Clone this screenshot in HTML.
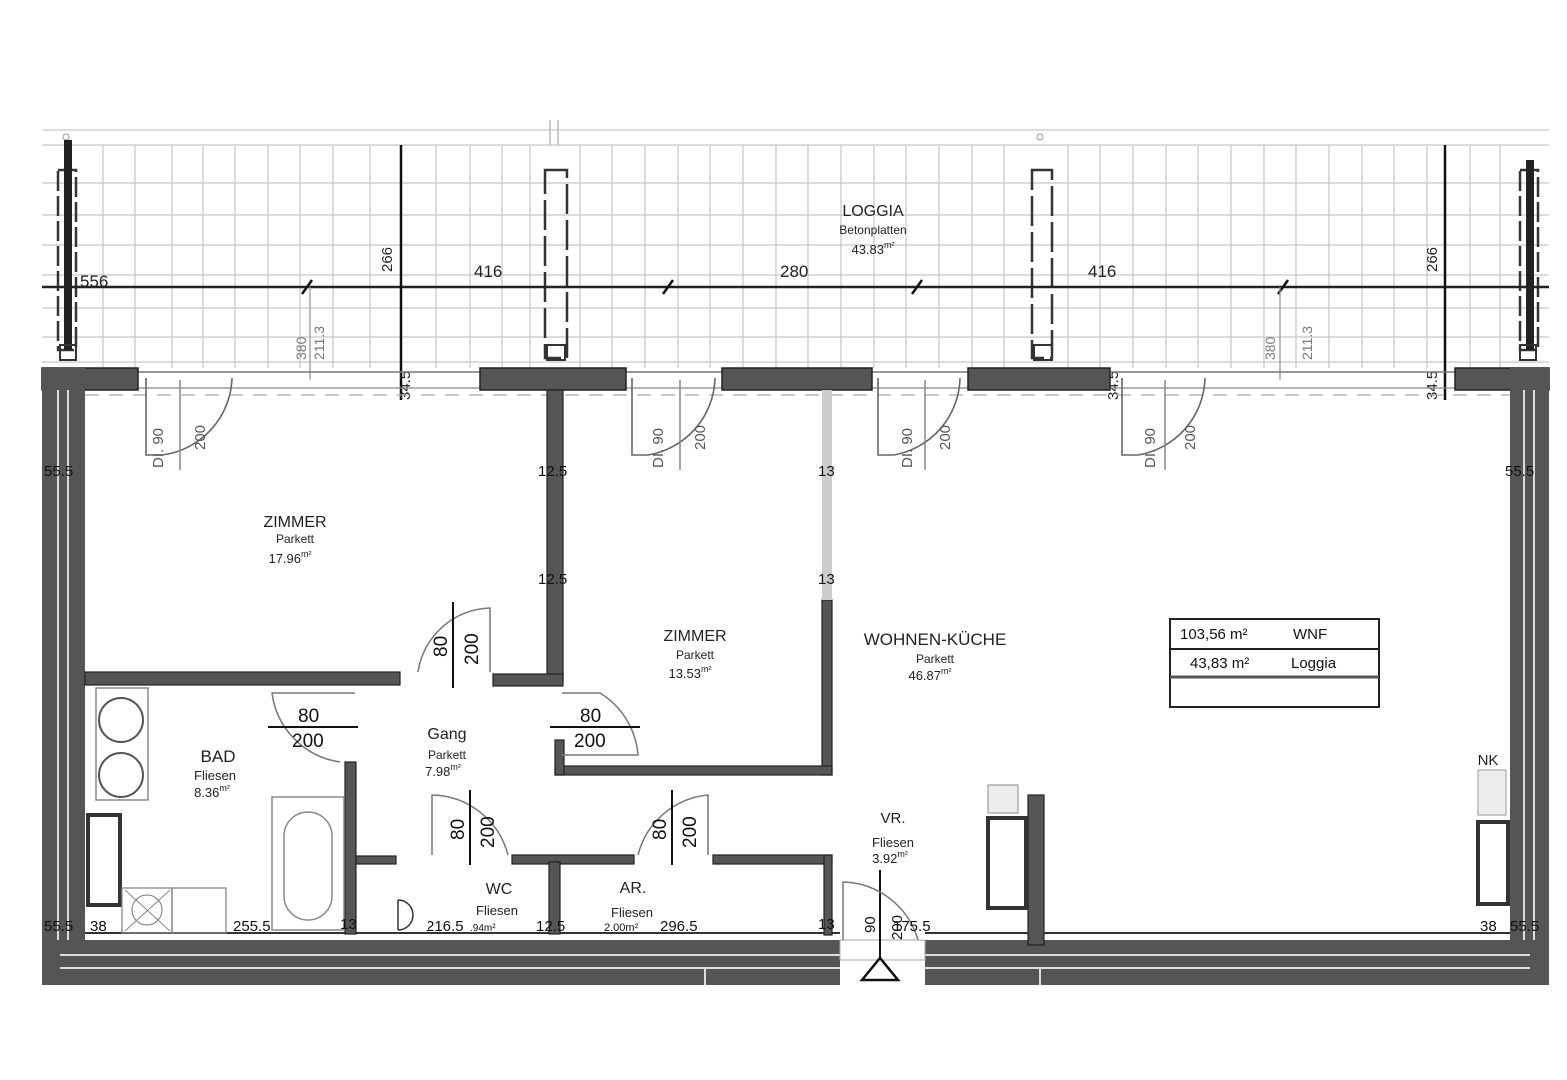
<!DOCTYPE html>
<html><head><meta charset="utf-8"><style>
html,body{margin:0;padding:0;background:#fff;}
svg{display:block;font-family:"Liberation Sans",sans-serif;}
</style></head><body>
<svg width="1567" height="1080" viewBox="0 0 1567 1080" xmlns="http://www.w3.org/2000/svg">
<rect width="1567" height="1080" fill="#fff"/>
<!-- Loggia grid -->
<g stroke="#c8c8c8" stroke-width="1.3">
<line x1="42" y1="130" x2="1549" y2="130"/>
<line x1="42" y1="145" x2="1549" y2="145"/>
<line x1="42" y1="183" x2="1549" y2="183"/>
<line x1="42" y1="215" x2="1549" y2="215"/>
<line x1="42" y1="245" x2="1549" y2="245"/>
<line x1="42" y1="275" x2="1549" y2="275"/>
<line x1="42" y1="308" x2="1549" y2="308"/>
<line x1="42" y1="337" x2="1549" y2="337"/>
<line x1="42" y1="362" x2="1549" y2="362"/>
</g>
<g stroke="#c8c8c8" stroke-width="1.3" id="vg">
<line x1="103" y1="145" x2="103" y2="368"/><line x1="135" y1="145" x2="135" y2="368"/><line x1="172" y1="145" x2="172" y2="368"/><line x1="203" y1="145" x2="203" y2="368"/><line x1="235" y1="145" x2="235" y2="368"/><line x1="268" y1="145" x2="268" y2="368"/><line x1="300" y1="145" x2="300" y2="368"/><line x1="333" y1="145" x2="333" y2="368"/><line x1="370" y1="145" x2="370" y2="368"/><line x1="436" y1="145" x2="436" y2="368"/><line x1="470" y1="145" x2="470" y2="368"/><line x1="502" y1="145" x2="502" y2="368"/><line x1="530" y1="145" x2="530" y2="368"/><line x1="580" y1="145" x2="580" y2="368"/><line x1="612" y1="145" x2="612" y2="368"/><line x1="645" y1="145" x2="645" y2="368"/><line x1="678" y1="145" x2="678" y2="368"/><line x1="710" y1="145" x2="710" y2="368"/><line x1="743" y1="145" x2="743" y2="368"/><line x1="776" y1="145" x2="776" y2="368"/><line x1="808" y1="145" x2="808" y2="368"/><line x1="841" y1="145" x2="841" y2="368"/><line x1="874" y1="145" x2="874" y2="368"/><line x1="906" y1="145" x2="906" y2="368"/><line x1="939" y1="145" x2="939" y2="368"/><line x1="972" y1="145" x2="972" y2="368"/><line x1="1004" y1="145" x2="1004" y2="368"/><line x1="1068" y1="145" x2="1068" y2="368"/><line x1="1100" y1="145" x2="1100" y2="368"/><line x1="1133" y1="145" x2="1133" y2="368"/><line x1="1166" y1="145" x2="1166" y2="368"/><line x1="1198" y1="145" x2="1198" y2="368"/><line x1="1231" y1="145" x2="1231" y2="368"/><line x1="1264" y1="145" x2="1264" y2="368"/><line x1="1296" y1="145" x2="1296" y2="368"/><line x1="1329" y1="145" x2="1329" y2="368"/><line x1="1362" y1="145" x2="1362" y2="368"/><line x1="1394" y1="145" x2="1394" y2="368"/><line x1="1427" y1="145" x2="1427" y2="368"/><line x1="1470" y1="145" x2="1470" y2="368"/><line x1="1500" y1="145" x2="1500" y2="368"/>
</g>
<line x1="550" y1="120" x2="550" y2="145" stroke="#bbb" stroke-width="1.5"/>
<line x1="558" y1="120" x2="558" y2="145" stroke="#bbb" stroke-width="1.5"/>
<circle cx="66" cy="137" r="3" fill="none" stroke="#999"/>
<circle cx="1040" cy="137" r="3" fill="none" stroke="#999"/>
<!-- pillars -->
<g fill="none" stroke="#333" stroke-width="2.5">
<rect x="58" y="170" width="18" height="180" stroke-dasharray="20 5"/>
<rect x="545" y="170" width="22" height="188" stroke-dasharray="30 6"/>
<rect x="1032" y="170" width="20" height="188" stroke-dasharray="30 6"/>
<rect x="1520" y="170" width="18" height="180" stroke-dasharray="20 5"/>
</g>
<rect x="64" y="140" width="8" height="210" fill="#222"/>
<rect x="1526" y="160" width="8" height="190" fill="#222"/>
<rect x="60" y="345" width="16" height="15" fill="none" stroke="#333" stroke-width="2"/>
<rect x="547" y="345" width="18" height="15" fill="none" stroke="#333" stroke-width="2"/>
<rect x="1034" y="345" width="18" height="15" fill="none" stroke="#333" stroke-width="2"/>
<rect x="1520" y="345" width="16" height="15" fill="none" stroke="#333" stroke-width="2"/>
<!-- dimension line -->
<line x1="42" y1="287" x2="1549" y2="287" stroke="#222" stroke-width="2.5"/>
<g stroke="#111" stroke-width="2.5">
<line x1="302" y1="294" x2="312" y2="280"/><line x1="663" y1="294" x2="673" y2="280"/><line x1="912" y1="294" x2="922" y2="280"/><line x1="1278" y1="294" x2="1288" y2="280"/>
</g>
<line x1="401" y1="145" x2="401" y2="400" stroke="#111" stroke-width="2.5"/>
<line x1="1445" y1="145" x2="1445" y2="400" stroke="#111" stroke-width="2.5"/>
<line x1="310" y1="287" x2="310" y2="380" stroke="#999" stroke-width="1.3"/>
<line x1="1280" y1="287" x2="1280" y2="380" stroke="#999" stroke-width="1.3"/>
<g font-size="17" fill="#222">
<text x="80" y="287">556</text>
<text x="474" y="277">416</text>
<text x="780" y="277">280</text>
<text x="1088" y="277">416</text>
<text x="873" y="216" text-anchor="middle" font-size="16">LOGGIA</text>
<text x="873" y="234" text-anchor="middle" font-size="12">Betonplatten</text>
<text x="873" y="254" text-anchor="middle" font-size="13">43.83<tspan font-size="9" dy="-6">m²</tspan></text>
<text transform="translate(392,272) rotate(-90)" font-size="15">266</text>
<text transform="translate(1437,272) rotate(-90)" font-size="15">266</text>
<text transform="translate(306,360) rotate(-90)" font-size="14" fill="#777">380</text>
<text transform="translate(324,360) rotate(-90)" font-size="14" fill="#777">211.3</text>
<text transform="translate(1275,360) rotate(-90)" font-size="14" fill="#777">380</text>
<text transform="translate(1312,360) rotate(-90)" font-size="14" fill="#777">211.3</text>
<text transform="translate(410,400) rotate(-90)" font-size="15">34.5</text>
<text transform="translate(1437,400) rotate(-90)" font-size="15">34.5</text>
<text transform="translate(1118,400) rotate(-90)" font-size="15">34.5</text>
</g>
<!-- top wall -->
<line x1="42" y1="372" x2="1549" y2="372" stroke="#777" stroke-width="1.5"/>
<line x1="42" y1="388" x2="1549" y2="388" stroke="#888" stroke-width="1.3"/>
<line x1="85" y1="395" x2="1510" y2="395" stroke="#aaa" stroke-width="1.3" stroke-dasharray="14 10"/>
<g fill="#555" stroke="#222" stroke-width="1.5">
<rect x="42" y="368" width="96" height="22"/>
<rect x="480" y="368" width="146" height="22"/>
<rect x="722" y="368" width="150" height="22"/>
<rect x="968" y="368" width="142" height="22"/>
<rect x="1455" y="368" width="94" height="22"/>
</g>
<!-- outer walls -->
<rect x="42" y="368" width="43" height="617" fill="#555"/>
<line x1="58" y1="390" x2="58" y2="975" stroke="#ddd" stroke-width="2"/>
<line x1="68" y1="390" x2="68" y2="975" stroke="#ddd" stroke-width="2"/>
<rect x="1510" y="368" width="39" height="617" fill="#555"/>
<line x1="1524" y1="390" x2="1524" y2="975" stroke="#ddd" stroke-width="2"/>
<line x1="1534" y1="390" x2="1534" y2="975" stroke="#ddd" stroke-width="2"/>
<rect x="42" y="940" width="798" height="45" fill="#555"/>
<rect x="925" y="940" width="624" height="45" fill="#555"/>
<line x1="60" y1="955" x2="840" y2="955" stroke="#ddd" stroke-width="2"/>
<line x1="60" y1="968" x2="840" y2="968" stroke="#ddd" stroke-width="2"/>
<line x1="925" y1="955" x2="1530" y2="955" stroke="#ddd" stroke-width="2"/>
<line x1="925" y1="968" x2="1530" y2="968" stroke="#ddd" stroke-width="2"/>
<line x1="705" y1="968" x2="705" y2="985" stroke="#ddd" stroke-width="2"/>
<line x1="1040" y1="968" x2="1040" y2="985" stroke="#ddd" stroke-width="2"/>
<line x1="85" y1="933" x2="840" y2="933" stroke="#333" stroke-width="2"/>
<line x1="925" y1="933" x2="1510" y2="933" stroke="#333" stroke-width="2"/>
<!-- entrance -->
<rect x="840" y="940" width="85" height="20" fill="#fff" stroke="#aaa"/>
<polygon points="880,958 862,980 898,980" fill="#fff" stroke="#111" stroke-width="2.5"/>
<line x1="880" y1="870" x2="880" y2="958" stroke="#111" stroke-width="2"/>
<path d="M843 940 V882 A80 80 0 0 1 918 940" fill="none" stroke="#777" stroke-width="1.5"/>
<!-- interior walls -->
<g fill="#555" stroke="#222" stroke-width="1.2">
<rect x="547" y="390" width="16" height="290"/>
<rect x="85" y="672" width="315" height="13"/>
<rect x="493" y="674" width="70" height="12"/>
<rect x="822" y="600" width="10" height="175"/>
<rect x="555" y="766" width="277" height="9"/>
<rect x="555" y="740" width="9" height="35"/>
<rect x="345" y="762" width="11" height="172"/>
<rect x="356" y="856" width="40" height="8"/>
<rect x="512" y="855" width="122" height="9"/>
<rect x="713" y="855" width="119" height="9"/>
<rect x="824" y="855" width="8" height="80"/>
<rect x="549" y="862" width="11" height="72"/>
<rect x="1028" y="795" width="16" height="150"/>
</g>
<rect x="822" y="390" width="10" height="210" fill="#ccc"/>
<!-- windows upper doors -->
<g fill="none" stroke="#666" stroke-width="1.6">
<path d="M146 378 V455 H162"/><path d="M162 455 A80 80 0 0 0 232 378"/>
<path d="M632 378 V455 H648"/><path d="M648 455 A80 80 0 0 0 715 378"/>
<path d="M878 378 V455 H894"/><path d="M894 455 A80 80 0 0 0 960 378"/>
<path d="M1122 378 V455 H1138"/><path d="M1138 455 A80 80 0 0 0 1205 378"/>
</g>
<g stroke="#888" stroke-width="1.5">
<line x1="180" y1="380" x2="180" y2="470"/><line x1="680" y1="380" x2="680" y2="470"/><line x1="925" y1="380" x2="925" y2="470"/><line x1="1165" y1="380" x2="1165" y2="470"/>
</g>
<g font-size="15" fill="#555">
<text transform="translate(163,468) rotate(-90)">DI. 90</text><text transform="translate(205,450) rotate(-90)">200</text>
<text transform="translate(663,468) rotate(-90)">DI. 90</text><text transform="translate(705,450) rotate(-90)">200</text>
<text transform="translate(912,468) rotate(-90)">DI. 90</text><text transform="translate(950,450) rotate(-90)">200</text>
<text transform="translate(1155,468) rotate(-90)">DI. 90</text><text transform="translate(1195,450) rotate(-90)">200</text>
</g>
<!-- inner doors -->
<g fill="none" stroke="#777" stroke-width="1.5">
<path d="M418 672 A75 75 0 0 1 490 608 V672"/>
<path d="M355 693 H272 A80 80 0 0 0 340 762"/>
<path d="M562 693 H600 A80 80 0 0 1 638 755 H562"/>
<path d="M432 855 V795 A80 80 0 0 1 508 855"/>
<path d="M638 855 A80 80 0 0 1 708 795 V855"/>
</g>
<g stroke="#111" stroke-width="2">
<line x1="453" y1="602" x2="453" y2="688"/>
<line x1="268" y1="727" x2="358" y2="727"/>
<line x1="550" y1="727" x2="640" y2="727"/>
<line x1="470" y1="790" x2="470" y2="865"/>
<line x1="672" y1="790" x2="672" y2="865"/>
</g>
<g font-size="19" fill="#111">
<text transform="translate(447,657) rotate(-90)">80</text><text transform="translate(478,665) rotate(-90)">200</text>
<text x="298" y="722">80</text><text x="292" y="747">200</text>
<text x="580" y="722">80</text><text x="574" y="747">200</text>
<text transform="translate(464,840) rotate(-90)">80</text><text transform="translate(494,848) rotate(-90)">200</text>
<text transform="translate(666,840) rotate(-90)">80</text><text transform="translate(696,848) rotate(-90)">200</text>
<text transform="translate(875,933) rotate(-90)" font-size="15">90</text><text transform="translate(902,940) rotate(-90)" font-size="15">200</text>
</g>
<!-- bath fixtures -->
<rect x="96" y="688" width="52" height="112" fill="none" stroke="#888" stroke-width="1.5"/>
<circle cx="121" cy="720" r="22" fill="none" stroke="#555" stroke-width="2"/>
<circle cx="121" cy="775" r="22" fill="none" stroke="#555" stroke-width="2"/>
<rect x="272" y="797" width="72" height="133" fill="none" stroke="#888" stroke-width="1.5"/>
<rect x="284" y="812" width="48" height="108" rx="24" fill="none" stroke="#888" stroke-width="1.5"/>
<rect x="88" y="815" width="32" height="90" fill="none" stroke="#333" stroke-width="4"/>
<rect x="122" y="888" width="50" height="45" fill="none" stroke="#888" stroke-width="1.3"/>
<rect x="172" y="888" width="54" height="45" fill="none" stroke="#888" stroke-width="1.3"/>
<circle cx="147" cy="910" r="15" fill="none" stroke="#777"/>
<line x1="125" y1="890" x2="170" y2="931" stroke="#888"/><line x1="170" y1="890" x2="125" y2="931" stroke="#888"/>
<!-- VR fridge -->
<rect x="988" y="785" width="30" height="28" fill="#eee" stroke="#888"/>
<rect x="988" y="818" width="38" height="90" fill="none" stroke="#333" stroke-width="4"/>
<rect x="1478" y="770" width="28" height="45" fill="#eee" stroke="#999"/>
<rect x="1478" y="822" width="30" height="82" fill="none" stroke="#333" stroke-width="4"/>
<!-- table -->
<g fill="none" stroke="#222" stroke-width="2">
<rect x="1170" y="619" width="209" height="88"/>
<line x1="1170" y1="649" x2="1379" y2="649"/>
<line x1="1170" y1="677" x2="1379" y2="677" stroke-width="3" stroke="#555"/>
</g>
<g font-size="15" fill="#111">
<text x="1180" y="639">103,56 m²</text><text x="1293" y="639">WNF</text>
<text x="1190" y="668">43,83 m²</text><text x="1291" y="668">Loggia</text>
</g>
<!-- room labels -->
<g fill="#222" text-anchor="middle">
<text x="295" y="527" font-size="16">ZIMMER</text><text x="295" y="543" font-size="12">Parkett</text><text x="290" y="563" font-size="13">17.96<tspan font-size="9" dy="-6">m²</tspan></text>
<text x="695" y="641" font-size="16">ZIMMER</text><text x="695" y="659" font-size="12">Parkett</text><text x="690" y="678" font-size="13">13.53<tspan font-size="9" dy="-6">m²</tspan></text>
<text x="935" y="645" font-size="17">WOHNEN-KÜCHE</text><text x="935" y="663" font-size="12">Parkett</text><text x="930" y="680" font-size="13">46.87<tspan font-size="9" dy="-6">m²</tspan></text>
<text x="218" y="762" font-size="17">BAD</text><text x="215" y="780" font-size="13">Fliesen</text><text x="212" y="797" font-size="13">8.36<tspan font-size="9" dy="-6">m²</tspan></text>
<text x="447" y="739" font-size="16">Gang</text><text x="447" y="759" font-size="12">Parkett</text><text x="443" y="776" font-size="13">7.98<tspan font-size="9" dy="-6">m²</tspan></text>
<text x="893" y="823" font-size="15">VR.</text><text x="893" y="847" font-size="13">Fliesen</text><text x="890" y="863" font-size="13">3.92<tspan font-size="9" dy="-6">m²</tspan></text>
<text x="499" y="894" font-size="16">WC</text><text x="497" y="915" font-size="13">Fliesen</text>
<text x="633" y="893" font-size="16">AR.</text><text x="632" y="917" font-size="13">Fliesen</text>
<text x="1488" y="765" font-size="15">NK</text>
</g>
<g font-size="15" fill="#111">
<text x="44" y="931">55.5</text><text x="90" y="931">38</text><text x="233" y="931">255.5</text><text x="340" y="929">13</text>
<text x="426" y="931">216.5</text><text x="470" y="931" font-size="10">.94m²</text><text x="536" y="931">12.5</text><text x="604" y="931" font-size="11">2.00m²</text><text x="660" y="931">296.5</text><text x="818" y="929">13</text><text x="893" y="931">175.5</text>
<text x="1480" y="931">38</text><text x="1510" y="931">55.5</text>
<text x="44" y="476">55.5</text><text x="1505" y="476">55.5</text>
<text x="538" y="476">12.5</text><text x="818" y="476">13</text><text x="818" y="584">13</text><text x="538" y="584">12.5</text>
</g>
<rect x="398" y="870" width="30" height="60" fill="#fff"/>
<path d="M398 900 V930 M398 900 A15 15 0 0 1 398 930" stroke="#333" fill="none" stroke-width="1.5"/>
</svg>
</body></html>
